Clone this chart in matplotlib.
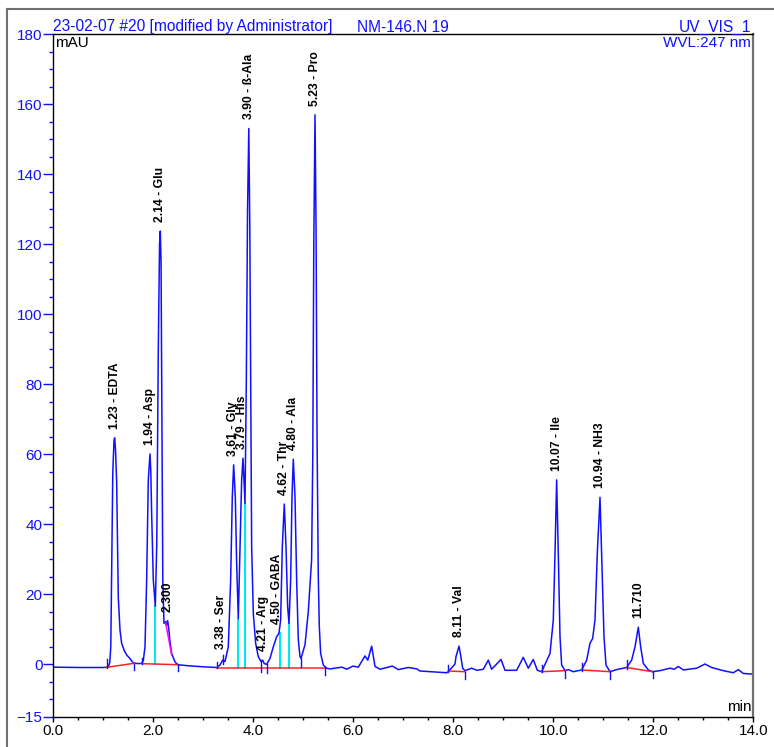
import matplotlib
matplotlib.use('Agg')
import matplotlib.pyplot as plt
from matplotlib.lines import Line2D
from matplotlib.ticker import MultipleLocator, FixedLocator

plt.rcParams['font.family'] = ['Liberation Sans', 'DejaVu Sans']

# chromatogram trace (min, mAU)
trace_time = [
    0.00, 0.50, 1.00, 1.10, 1.13, 1.15, 1.17, 1.19, 1.215, 1.227, 1.245, 1.267,
    1.285, 1.30, 1.334, 1.367, 1.42, 1.467, 1.53, 1.60, 1.70, 1.767, 1.80, 1.834,
    1.867, 1.90, 1.934, 1.95, 1.967, 2.00, 2.04, 2.07, 2.10, 2.125, 2.14, 2.155,
    2.175, 2.19, 2.214, 2.247, 2.265, 2.287, 2.31, 2.33, 2.367, 2.434, 2.487, 2.70,
    3.00, 3.267, 3.334, 3.387, 3.434, 3.50, 3.547, 3.58, 3.607, 3.64, 3.667, 3.70,
    3.734, 3.767, 3.794, 3.814, 3.834, 3.86, 3.885, 3.91, 3.93, 3.947, 3.967, 4.00,
    4.047, 4.10, 4.154, 4.187, 4.22, 4.267, 4.334, 4.40, 4.467, 4.514, 4.547, 4.58,
    4.62, 4.654, 4.687, 4.714, 4.747, 4.774, 4.80, 4.834, 4.867, 4.90, 4.934, 4.954,
    5.034, 5.10, 5.166, 5.19, 5.21, 5.234, 5.255, 5.275, 5.30, 5.32, 5.347, 5.40,
    5.467, 5.534, 5.77, 5.87, 5.99, 6.10, 6.234, 6.29, 6.367, 6.434, 6.534, 6.78,
    6.90, 7.10, 7.27, 7.334, 7.867, 7.90, 8.034, 8.054, 8.114, 8.147, 8.187, 8.234,
    8.367, 8.467, 8.60, 8.70, 8.767, 8.954, 9.034, 9.267, 9.40, 9.50, 9.60, 9.68,
    9.767, 9.934, 10.00, 10.034, 10.067, 10.10, 10.134, 10.167, 10.234, 10.30, 10.40, 10.567,
    10.667, 10.734, 10.787, 10.834, 10.88, 10.934, 10.967, 11.014, 11.054, 11.134, 11.267, 11.467,
    11.567, 11.634, 11.70, 11.747, 11.80, 11.90, 11.987, 12.134, 12.334, 12.42, 12.50, 12.60,
    12.867, 13.034, 13.167, 13.40, 13.60, 13.70, 13.80, 14.00,
]
trace_signal = [
    -0.9, -1.0, -1.0, -0.9, 0.5, 5.0, 30, 55, 64.0, 64.6, 61, 52,
    35, 19, 9.7, 5.9, 3.8, 2.6, 1.6, 0.3, 0.1, 0.2, 1.0, 4.9,
    24, 52.6, 60.0, 55, 43, 24, 16.5, 35, 90, 120, 123.7, 115,
    60, 24, 11.6, 12.1, 11.0, 12.4, 10.0, 6.9, 3.0, 0.6, -0.2, -0.5,
    -0.8, -1.0, -0.3, 1.1, 0.7, 4.9, 24, 47.8, 56.9, 47.8, 28.8, 13.0,
    33.5, 52.6, 58.8, 52.6, 45.9, 80, 130, 153.0, 125, 81, 33.5, 14.5,
    5.9, 2.1, 0.7, 1.1, 0.1, -0.1, 1.6, 4.9, 7.8, 8.8, 12.6, 33.5,
    45.7, 33.5, 16.4, 11.6, 24, 47.8, 58.5, 47.8, 24, 6.9, 2.1, 1.6,
    5.5, 15, 29.7, 60, 120, 156.9, 125, 65, 25, 10.7, 3.0, -0.3,
    -1.2, -1.4, -0.9, -1.5, -0.6, -0.9, 2.3, 1.1, 5.1, -0.7, -1.5, -0.6,
    -1.6, -1.0, -1.4, -2.0, -2.5, -2.2, 0.0, 2.1, 5.1, 2.5, -1.2, -1.9,
    -1.2, -1.8, -1.5, 1.1, -1.5, 1.3, -1.8, -1.8, 1.9, -1.2, 1.3, -1.8,
    -2.2, 3.0, 12.6, 31.6, 52.6, 31.6, 7.8, -0.3, -1.9, -1.6, -2.2, -1.7,
    1.1, 5.9, 7.3, 12.6, 31.6, 47.6, 31.6, 7.8, -0.3, -2.2, -1.6, -1.0,
    1.1, 4.9, 10.5, 4.9, 0.2, -1.7, -2.2, -1.9, -1.2, -1.5, -0.7, -1.7,
    -1.2, 0.0, -1.0, -1.9, -2.5, -1.6, -2.7, -2.9,
]

# peak labels
peak_names = ['1.23 - EDTA', '1.94 - Asp', '2.14 - Glu', '2.300', '3.38 - Ser',
              '3.61 - Gly', '3.79 - His', '3.90 - ß-Ala', '4.21 - Arg', '4.50 - GABA',
              '4.62 - Thr', '4.80 - Ala', '5.23 - Pro', '8.11 - Val', '10.07 - Ile',
              '10.94 - NH3', '11.710']
peak_rt = [1.227, 1.934, 2.14, 2.28, 3.35, 3.595, 3.78, 3.91, 4.19, 4.48,
           4.62, 4.80, 5.234, 8.114, 10.067, 10.934, 11.70]
peak_top = [64.6, 60.0, 123.7, 12.4, 1.6, 56.9, 58.8, 153.0, 1.1, 8.8,
            45.7, 58.5, 156.9, 5.1, 52.6, 47.6, 10.5]

# integration baselines (red)
bl_t0 = [1.067, 1.767, 3.267, 7.90, 9.767, 10.567, 11.467]
bl_v0 = [-0.95, 0.1, -1.0, -2.0, -2.2, -1.7, -1.0]
bl_t1 = [1.614, 2.487, 5.434, 8.234, 10.234, 11.134, 11.987]
bl_v1 = [0.2, -0.2, -1.0, -2.2, -1.9, -2.2, -2.2]

# peak delimiters (short blue marks)
delim_t = [1.067, 1.614, 1.767, 2.487, 3.267, 3.387, 4.154, 4.267, 4.947, 5.434,
           7.90, 8.234, 9.767, 10.234, 10.567, 11.134, 11.467, 11.987]
delim_lo = [-1.0, -1.8, 0.0, -2.0, -1.0, 0.0, -2.3, -2.7, -0.9, -3.1,
            -2.2, -4.4, -2.4, -4.1, -1.9, -4.4, -1.3, -4.1]
delim_hi = [1.3, 0.1, 1.6, 0.1, 0.7, 2.6, 1.1, 0.1, 1.6, -0.95,
            -0.3, -2.2, -0.3, -1.9, 0.3, -1.9, 1.1, -1.9]

# perpendicular drops (cyan)
drop_t = [2.04, 3.70, 3.834, 4.534, 4.714]
drop_lo = [0.0, -1.0, -1.0, -1.0, -1.0]
drop_hi = [16.5, 13.0, 45.9, 8.8, 11.6]

# tangent skim (magenta)
skim_t = [2.247, 2.367]
skim_v = [11.8, 2.6]

fig = plt.figure(figsize=(7.74, 7.47), dpi=100)
ax = fig.add_axes([53.3 / 774, 1 - 716.5 / 747, 700 / 774, 682.5 / 747])

for t, lo, hi in zip(drop_t, drop_lo, drop_hi):
    ax.plot([t, t], [lo, hi], color='#00e8f0', lw=1.5, zorder=1)
ax.plot(trace_time, trace_signal, color='#1010ff', lw=1.1, zorder=2)
for t0, v0, t1, v1 in zip(bl_t0, bl_v0, bl_t1, bl_v1):
    ax.plot([t0, t1], [v0, v1], color='#ff2020', lw=1.1, zorder=3)
ax.plot(skim_t, skim_v, color='#ff00ff', lw=1.1, zorder=3)
for t, lo, hi in zip(delim_t, delim_lo, delim_hi):
    ax.plot([t, t], [lo, hi], color='#1010ff', lw=1.0, zorder=4)

for name, t, v in zip(peak_names, peak_rt, peak_top):
    ax.annotate(name, (t, v), xytext=(0, 6.5), textcoords='offset points',
                rotation=90, ha='center', va='bottom', fontsize=8.7,
                fontweight='bold', color='black')

ax.set_xlim(0, 14)
ax.set_ylim(-15, 180)

ax.xaxis.set_major_locator(MultipleLocator(2))
ax.xaxis.set_minor_locator(MultipleLocator(0.5))
ax.set_xticklabels([])
ax.set_xticks(ax.get_xticks())
ax.set_xticklabels(['%.1f' % x for x in ax.get_xticks()])
ax.set_xlim(0, 14)
ax.yaxis.set_major_locator(FixedLocator([-15, 0, 20, 40, 60, 80, 100, 120, 140, 160, 180]))
ax.yaxis.set_minor_locator(MultipleLocator(5))

ax.tick_params(axis='x', which='major', length=3.6, width=1, color='black',
               labelsize=11, pad=1.5, labelcolor='black')
ax.tick_params(axis='x', which='minor', length=2.5, width=1, color='black')
ax.tick_params(axis='y', which='major', length=7.2, width=1, color='#1010ff',
               labelsize=11, pad=0.5, labelcolor='#1010ff')
ax.tick_params(axis='y', which='minor', length=2.9, width=1, color='#1010ff')

for side in ['left', 'top', 'bottom']:
    ax.spines[side].set_color('black')
    ax.spines[side].set_linewidth(1.0)
ax.spines['right'].set_color('#707070')
ax.spines['right'].set_linewidth(1.6)

ax.text(0.003, 0.997, 'mAU', transform=ax.transAxes, ha='left', va='top',
        fontsize=11, color='black')
ax.text(0.997, 0.003, 'min', transform=ax.transAxes, ha='right', va='bottom',
        fontsize=11, color='black')
ax.text(0.997, 0.997, 'WVL:247 nm', transform=ax.transAxes, ha='right', va='top',
        fontsize=11, color='#1010ff')

fig.text(53 / 774, 1 - 31.5 / 747, '23-02-07 #20 [modified by Administrator]',
         ha='left', va='baseline', fontsize=11.2, color='#1010ff')
fig.text(357 / 774, 1 - 31.5 / 747, 'NM-146.N 19',
         ha='left', va='baseline', fontsize=11.2, color='#1010ff')
fig.text(751 / 774, 1 - 31.5 / 747, 'UV_VIS_1',
         ha='right', va='baseline', fontsize=11.2, color='#1010ff')

# outer frame, cut off at right and bottom
fig.add_artist(Line2D([6.7 / 774, 1], [1 - 9.3 / 747, 1 - 9.3 / 747],
                      color='#707070', lw=1.5))
fig.add_artist(Line2D([6.7 / 774, 6.7 / 774], [0, 1 - 9.3 / 747],
                      color='#707070', lw=1.5))

fig.savefig('out.png', dpi=100)
